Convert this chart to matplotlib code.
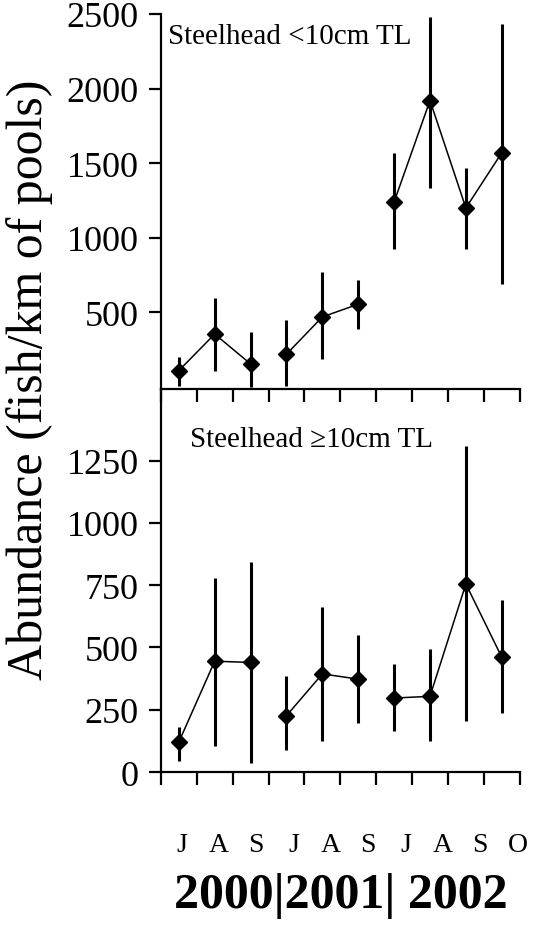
import numpy as np
import matplotlib.pyplot as plt

# 1) Data
months = ['J', 'A', 'S', 'J', 'A', 'S', 'J', 'A', 'S', 'O']
year_text = '2000|2001| 2002'
groups = [(0, 3), (3, 6), (6, 10)]   # points joined within each year

small_mean = np.array([110, 355, 155, 220, 470, 555, 1240, 1920, 1200, 1570])
small_low = np.array([10, 110, 0, 10, 190, 390, 925, 1335, 925, 690])
small_high = np.array([200, 600, 370, 450, 770, 720, 1565, 2480, 1465, 2435])

large_mean = np.array([120, 445, 440, 226, 394, 373, 297, 304, 755, 461])
large_low = np.array([45, 105, 35, 88, 126, 197, 166, 126, 206, 236])
large_high = np.array([180, 780, 842, 384, 661, 550, 434, 494, 1308, 692])

small_ticks = [500, 1000, 1500, 2000, 2500]
large_ticks = [0, 250, 500, 750, 1000, 1250]

# 2) Figure layout
plt.rcParams['font.family'] = ['Liberation Serif', 'DejaVu Serif']
fig = plt.figure(figsize=(5.38, 9.29), dpi=100)
ax2 = fig.add_axes([0.299, 0.1679, 0.667, 0.4123])
ax1 = fig.add_axes([0.299, 0.5802, 0.667, 0.4037])
ax1.patch.set_visible(False)
ax2.patch.set_visible(False)

x = np.arange(len(months))


def draw_panel(ax, mean, low, high):
    ax.errorbar(x, mean, yerr=[mean - low, high - mean], fmt='none',
                ecolor='black', elinewidth=2.2, capsize=0, clip_on=False, zorder=2)
    for a, b in groups:
        ax.plot(x[a:b], mean[a:b], color='black', lw=1.1, clip_on=False, zorder=3)
    ax.plot(x, mean, linestyle='none', marker='D', ms=8.5, color='black',
            clip_on=False, zorder=4)
    ax.set_xlim(-0.5, len(months) - 0.5)
    ax.set_xticks(np.arange(len(months) + 1) - 0.5)
    ax.set_xticklabels([])
    for side in ['top', 'right']:
        ax.spines[side].set_visible(False)
    for side in ['left', 'bottom']:
        ax.spines[side].set_linewidth(1.6)
    ax.tick_params(axis='both', direction='out', length=9, width=1.6,
                   labelsize=26, pad=7)


draw_panel(ax1, small_mean, small_low, small_high)
ax1.set_ylim(-13, 2500)
ax1.set_yticks(small_ticks)
ax1.text(0.02, 0.94, 'Steelhead <10cm TL', transform=ax1.transAxes,
         fontsize=21, va='center', ha='left')

draw_panel(ax2, large_mean, large_low, large_high)
ax2.set_ylim(0, 1538)
ax2.set_yticks(large_ticks)
ax2.text(0.08, 0.87, 'Steelhead \u226510cm TL', transform=ax2.transAxes,
         fontsize=21, va='center', ha='left')

# month labels under the lower panel
month_pos = np.arange(len(months)) * 1.04 + 0.08
for xp, m in zip(month_pos, months):
    ax2.text(xp, -0.19, m, transform=ax2.get_xaxis_transform(),
             fontsize=20, ha='center', va='center')

fig.text(341 / 538, 1 - 896 / 929, year_text, fontsize=36, fontweight='bold',
         ha='center', va='center')

fig.text(30 / 538, 1 - 380 / 929, 'Abundance (fish/km of pools)', fontsize=36,
         rotation=90, ha='center', va='center')

fig.savefig('out.png', dpi=100)
